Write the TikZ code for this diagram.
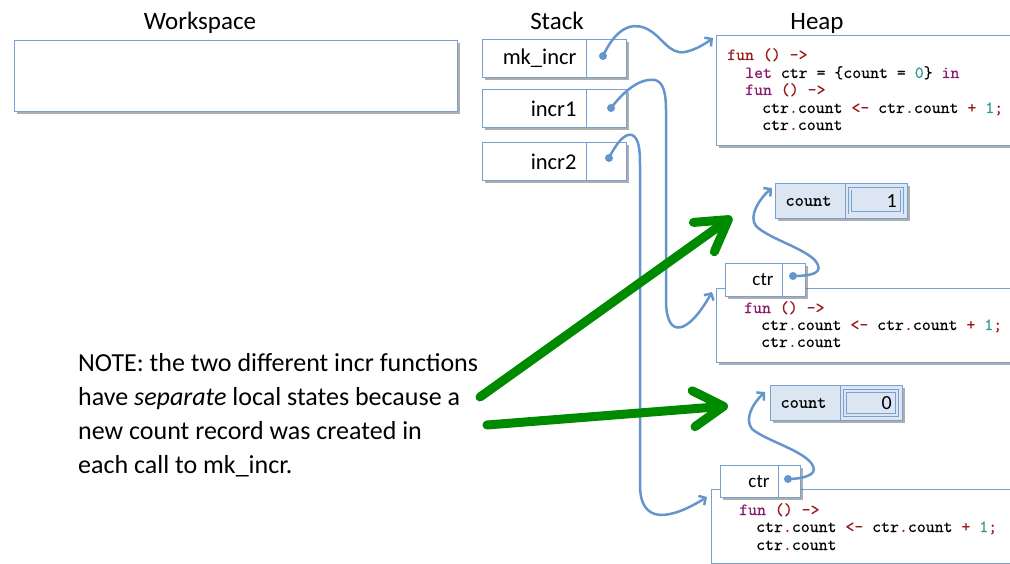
\documentclass[tikz,border=0pt]{standalone}
\usepackage{fontspec}
\setmainfont{Carlito}
\newfontfamily\codefont{lmmono10-regular.otf}[FakeBold=0.3]
\usetikzlibrary{arrows.meta,shadows}
\definecolor{boxblue}{RGB}{120,160,210}
\definecolor{linkblue}{RGB}{100,150,205}
\definecolor{recfill}{RGB}{220,230,242}
\definecolor{notegreen}{RGB}{0,138,0}
\definecolor{kwred}{RGB}{155,25,25}
\definecolor{kwpur}{RGB}{140,25,110}
\definecolor{kwteal}{RGB}{45,150,150}
\newcommand\cRed[1]{\textcolor{kwred}{#1}}
\newcommand\cPur[1]{\textcolor{kwpur}{#1}}
\newcommand\cTeal[1]{\textcolor{kwteal}{#1}}
\begin{document}
\begin{tikzpicture}[x=1pt,y=-1pt,
  shad/.style={drop shadow={shadow xshift=2.5pt,shadow yshift=-2.5pt,opacity=.45,fill=black!70}},
  box/.style={draw=boxblue,line width=1pt,fill=white,inner sep=0pt,anchor=north west,shad},
  rec/.style={box,fill=recfill},
  title/.style={font=\fontsize{25}{30}\selectfont,anchor=base},
  slbl/.style={font=\fontsize{22.5}{26}\selectfont,align=right,inner ysep=0pt},
  code/.style={font=\codefont\fontsize{17}{18}\selectfont,anchor=base west,inner sep=0pt},
  link/.style={draw=linkblue,line width=2.5pt,-{Straight Barb[length=5pt,width=11pt]}},
  dot/.style={fill=linkblue},
  bigarrow/.style={draw=notegreen,line width=9pt,line cap=round,line join=round,-{Straight Barb[length=30pt,width=36pt,line cap=round,line join=round]}}
]
\useasboundingbox (0,0) rectangle (1010,564);

% titles
\node[title] (tws) at (200,30) {Workspace};
\node[title] (tst) at (557,30) {Stack};
\node[title] (thp) at (817,30) {Heap};

% workspace
\node[box,minimum width=443pt,minimum height=71pt] (ws) at (14,40) {};

% stack
\node[box,slbl,minimum height=38pt,text width=84pt,inner xsep=10pt] (mk) at (482,39) {mk\_incr};
\node[box,minimum width=40pt,minimum height=38pt] (mkv) at (586,39) {};
\node[box,slbl,minimum height=38pt,text width=84pt,inner xsep=10pt] (i1) at (482,89) {incr1};
\node[box,minimum width=40pt,minimum height=38pt] (i1v) at (586,89) {};
\node[box,slbl,minimum height=38pt,text width=84pt,inner xsep=10pt] (i2) at (482,142) {incr2};
\node[box,minimum width=40pt,minimum height=38pt] (i2v) at (586,142) {};

% heap box 1
\node[box,minimum width=310pt,minimum height=110pt] (h1) at (716,35) {};
\node[code] (h1a) at (727,60) {\cRed{fun () ->}};
\node[code] (h1b) at (745,78) {\cPur{let} ctr = \{count = \cTeal{0}\} \cPur{in}};
\node[code] (h1c) at (745,95) {\cPur{fun} \cRed{() ->}};
\node[code] (h1d) at (762,113) {ctr\cRed{.}count \cRed{<-} ctr\cRed{.}count \cRed{+} \cTeal{1}\cRed{;}};
\node[code] (h1e) at (762,130) {ctr\cRed{.}count};

% count record 1
\node[rec,minimum width=70pt,minimum height=35pt,align=left,text width=50pt,inner xsep=10pt,font=\codefont\fontsize{17.5}{18}\selectfont] (c1) at (775,183) {count};
\node[rec,minimum width=62pt,minimum height=35pt] (c1v) at (845,183) {};
\node[draw=boxblue,line width=.9pt,double=recfill,double distance=1.3pt,minimum width=52pt,minimum height=24pt,inner sep=0pt,anchor=north west] (c1i) at (849.5,188.5) {};
\node[anchor=east,font=\fontsize{20}{24}\selectfont,inner sep=0pt] (c1n) at (897,201) {1};

% heap box 2 + ctr cell
\node[box,minimum width=310pt,minimum height=74pt] (h2) at (716,288) {};
\node[box,slbl,font=\fontsize{19}{22}\selectfont,minimum height=33pt,text width=39pt,inner xsep=9pt] (k1) at (725,263) {ctr};
\node[box,minimum width=23pt,minimum height=33pt] (k1v) at (782,263) {};
\node[code] (h2a) at (744,313) {\cPur{fun} \cRed{() ->}};
\node[code] (h2b) at (761,330) {ctr\cRed{.}count \cRed{<-} ctr\cRed{.}count \cRed{+} \cTeal{1}\cRed{;}};
\node[code] (h2c) at (761,347) {ctr\cRed{.}count};

% count record 2
\node[rec,minimum width=70pt,minimum height=35pt,align=left,text width=50pt,inner xsep=10pt,font=\codefont\fontsize{17.5}{18}\selectfont] (c2) at (770,385) {count};
\node[rec,minimum width=62pt,minimum height=35pt] (c2v) at (840,385) {};
\node[draw=boxblue,line width=.9pt,double=recfill,double distance=1.3pt,minimum width=52pt,minimum height=24pt,inner sep=0pt,anchor=north west] (c2i) at (844.5,390.5) {};
\node[anchor=east,font=\fontsize{20}{24}\selectfont,inner sep=0pt] (c2n) at (892,403) {0};

% heap box 3 + ctr cell
\node[box,minimum width=315pt,minimum height=74pt] (h3) at (711,489) {};
\node[box,slbl,font=\fontsize{19}{22}\selectfont,minimum height=32pt,text width=40pt,inner xsep=9pt] (k2) at (720,465) {ctr};
\node[box,minimum width=22pt,minimum height=32pt] (k2v) at (778,465) {};
\node[code] (h3a) at (739,515) {\cPur{fun} \cRed{() ->}};
\node[code] (h3b) at (756,532) {ctr\cRed{.}count \cRed{<-} ctr\cRed{.}count \cRed{+} \cTeal{1}\cRed{;}};
\node[code] (h3c) at (756,550) {ctr\cRed{.}count};

% link endpoints
\coordinate (mkd) at (603,56);
\coordinate (i1d) at (611,108);
\coordinate (i2d) at (609,158);
\coordinate (k1d) at (793,276);
\coordinate (k2d) at (788,479);
\coordinate (h1t) at ([shift={(-3,3)}]h1.north west);
\coordinate (h2t) at ([shift={(-4,4)}]h2.north west);
\coordinate (h3t) at ([shift={(-4,8)}]h3.north west);
\coordinate (c1t) at ([shift={(-3,5)}]c1.north west);
\coordinate (c2t) at ([shift={(-5,7)}]c2.north west);

% links
\draw[link] (mkd) .. controls (615,30) and (630,22) .. (645,28)
  .. controls (662,35) and (668,55) .. (685,52)
  .. controls (695,50) and (705,44) .. (h1t);
\draw[link] (i1d) .. controls (625,90) and (640,78) .. (655,80)
  .. controls (663,82) and (666,92) .. (666,110) -- (666,300)
  .. controls (666,340) and (688,335) .. (h2t);
\draw[link] (i2d) .. controls (617,142) and (625,133) .. (632,135)
  .. controls (639,138) and (640,150) .. (640,165) -- (640,485)
  .. controls (640,525) and (670,520) .. (h3t);
\draw[link] (k1d) .. controls (805,276) and (822,275) .. (818,265)
  .. controls (812,250) and (770,240) .. (756,226)
  .. controls (748,216) and (760,198) .. (c1t);
\draw[link] (k2d) .. controls (800,479) and (818,476) .. (813,466)
  .. controls (806,451) and (766,441) .. (752,429)
  .. controls (744,419) and (753,403) .. (c2t);
\foreach \d in {mkd,i1d,i2d,k1d,k2d} \fill[dot] (\d) circle (4pt);

% note
\node[anchor=north west,align=left,inner sep=0pt,font=\fontsize{26}{34}\selectfont] (note) at (78,353)
 {NOTE: the two different incr functions\\ have \emph{separate} local states because a\\ new count record was created in\\ each call to mk\_incr.};
\coordinate (g1s) at (480,397);
\coordinate (g2s) at (487,425);
\coordinate (g1t) at ([shift={(-43,34)}]c1.north west);
\coordinate (g2t) at ([shift={(-42,21)}]c2.north west);
\draw[bigarrow] (g1s) -- (g1t);
\draw[bigarrow] (g2s) -- (g2t);
\end{tikzpicture}
\end{document}
